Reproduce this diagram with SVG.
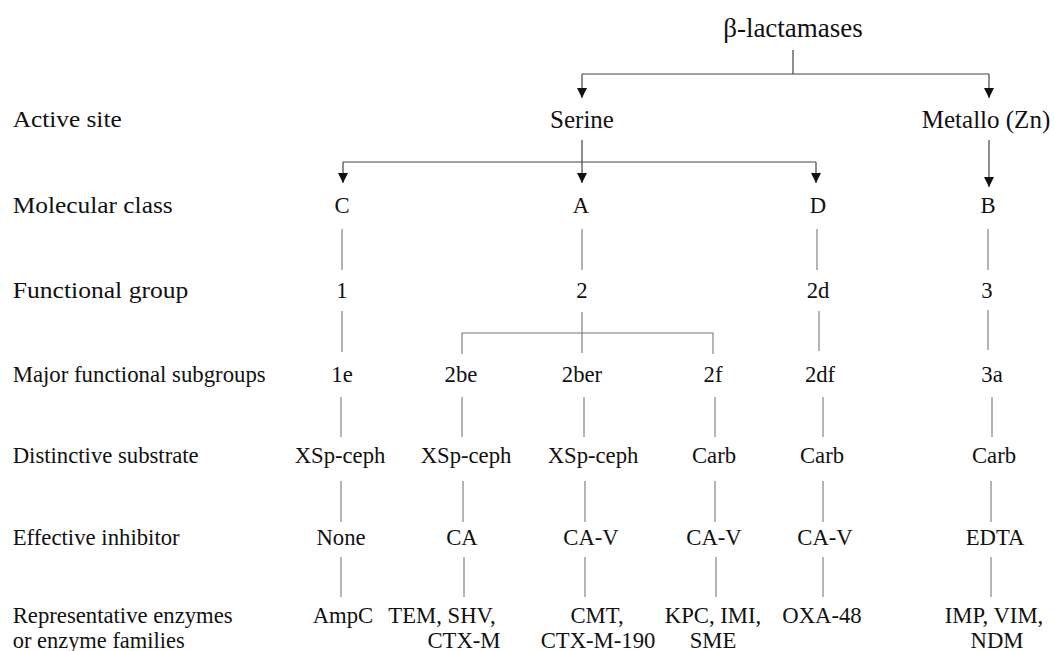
<svg xmlns="http://www.w3.org/2000/svg" width="1054" height="651" viewBox="0 0 1054 651">
<style>
text{font-family:"Liberation Serif","Times New Roman",serif;fill:#111;}
.lab{font-size:22.7px;}
.nd{font-size:22.7px;text-anchor:middle;}
.big{font-size:25px;text-anchor:middle;}
.ttl{font-size:27px;text-anchor:middle;}
.arr{stroke:#444;stroke-width:1.2;fill:none;}
.ln{stroke:#777;stroke-width:1.1;fill:none;}
</style>
<defs>
<marker id="ah" markerUnits="userSpaceOnUse" markerWidth="10" markerHeight="12" viewBox="0 0 10 12" refX="5" refY="12" orient="auto-start-reverse">
<path d="M0,0 L10,0 L5,12 Z" fill="#111" transform="rotate(-90 5 6) translate(0 0)"/>
</marker>
<marker id="a" markerUnits="userSpaceOnUse" markerWidth="10" markerHeight="12" viewBox="0 0 10 12" refX="10" refY="6" orient="auto">
<path d="M0,1 L10,6 L0,11 Z" fill="#111"/>
</marker>
</defs>

<g id="row-labels">
<text class="lab" x="12.7" y="127" textLength="109" lengthAdjust="spacingAndGlyphs">Active site</text>
<text class="lab" x="12.7" y="213" textLength="160" lengthAdjust="spacingAndGlyphs">Molecular class</text>
<text class="lab" x="12.7" y="298" textLength="175.7" lengthAdjust="spacingAndGlyphs">Functional group</text>
<text class="lab" x="12.7" y="382" textLength="253" lengthAdjust="spacingAndGlyphs">Major functional subgroups</text>
<text class="lab" x="12.7" y="463" textLength="186" lengthAdjust="spacingAndGlyphs">Distinctive substrate</text>
<text class="lab" x="12.7" y="545" textLength="167" lengthAdjust="spacingAndGlyphs">Effective inhibitor</text>
<text class="lab" x="12.7" y="623" textLength="220" lengthAdjust="spacingAndGlyphs">Representative enzymes</text>
<text class="lab" x="12.7" y="648" textLength="172" lengthAdjust="spacingAndGlyphs">or enzyme families</text>
</g>

<g id="connectors">
<path class="arr" d="M793,50 V74"/>
<path class="arr" d="M582,74 H989"/>
<path class="arr" d="M582,74 V98" marker-end="url(#a)"/>
<path class="arr" d="M989,74 V98" marker-end="url(#a)"/>
<path class="arr" d="M582,140 V183" marker-end="url(#a)"/>
<path class="arr" d="M343,162 H816"/>
<path class="arr" d="M343,162 V183" marker-end="url(#a)"/>
<path class="arr" d="M816,162 V183" marker-end="url(#a)"/>
<path class="arr" d="M989,140 V187" marker-end="url(#a)"/>

<path class="ln" d="M342,229 V270 M582,229 V270 M817,229 V270 M988,229 V270"/>
<path class="ln" d="M342,311 V352 M582,312 V353 M819,311 V351 M988,310 V350"/>
<path class="ln" d="M462,354 V333 H713 V354"/>
<path class="ln" d="M341,397 V437 M462,397 V437 M584,397 V437 M715,397 V437 M823,397 V437 M992,397 V437"/>
<path class="ln" d="M341,481 V522 M463,481 V522 M585,481 V522 M715,481 V522 M823,481 V522 M991,481 V522"/>
<path class="ln" d="M341,557 V597 M464,557 V597 M585,557 V597 M716,557 V597 M823,557 V597 M991,557 V597"/>
</g>

<g id="n-root"><text class="ttl" x="793" y="37">β-lactamases</text></g>
<g id="n-serine"><text class="big" x="582" y="128">Serine</text></g>
<g id="n-metallo"><text class="big" x="986" y="128">Metallo (Zn)</text></g>

<g id="n-C"><text class="nd" x="342" y="213">C</text></g>
<g id="n-A"><text class="nd" x="581" y="213">A</text></g>
<g id="n-D"><text class="nd" x="818" y="213">D</text></g>
<g id="n-B"><text class="nd" x="988" y="213">B</text></g>

<g id="n-1"><text class="nd" x="342" y="298">1</text></g>
<g id="n-2"><text class="nd" x="582" y="298">2</text></g>
<g id="n-2d"><text class="nd" x="818" y="298">2d</text></g>
<g id="n-3"><text class="nd" x="987" y="298">3</text></g>

<g id="n-1e"><text class="nd" x="342" y="382">1e</text></g>
<g id="n-2be"><text class="nd" x="461" y="382">2be</text></g>
<g id="n-2ber"><text class="nd" x="582" y="382">2ber</text></g>
<g id="n-2f"><text class="nd" x="713" y="382">2f</text></g>
<g id="n-2df"><text class="nd" x="820" y="382">2df</text></g>
<g id="n-3a"><text class="nd" x="992" y="382">3a</text></g>

<g id="s-1e"><text class="nd" x="340" y="463">XSp-ceph</text></g>
<g id="s-2be"><text class="nd" x="466" y="463">XSp-ceph</text></g>
<g id="s-2ber"><text class="nd" x="593" y="463">XSp-ceph</text></g>
<g id="s-2f"><text class="nd" x="714" y="463">Carb</text></g>
<g id="s-2df"><text class="nd" x="822" y="463">Carb</text></g>
<g id="s-3a"><text class="nd" x="994" y="463">Carb</text></g>

<g id="i-1e"><text class="nd" x="341" y="545">None</text></g>
<g id="i-2be"><text class="nd" x="462" y="545">CA</text></g>
<g id="i-2ber"><text class="nd" x="591" y="545">CA-V</text></g>
<g id="i-2f"><text class="nd" x="714" y="545">CA-V</text></g>
<g id="i-2df"><text class="nd" x="825" y="545">CA-V</text></g>
<g id="i-3a"><text class="nd" x="995" y="545">EDTA</text></g>

<g id="e-1e"><text class="nd" x="343" y="623">AmpC</text></g>
<g id="e-2be"><text class="nd" x="442" y="623">TEM, SHV,</text><text class="nd" x="464" y="648">CTX-M</text></g>
<g id="e-2ber"><text class="nd" x="597" y="623">CMT,</text><text class="nd" x="598" y="648">CTX-M-190</text></g>
<g id="e-2f"><text class="nd" x="713" y="623">KPC, IMI,</text><text class="nd" x="713" y="648">SME</text></g>
<g id="e-2df"><text class="nd" x="822" y="623">OXA-48</text></g>
<g id="e-3a"><text class="nd" x="994" y="623">IMP, VIM,</text><text class="nd" x="997" y="648">NDM</text></g>
</svg>
